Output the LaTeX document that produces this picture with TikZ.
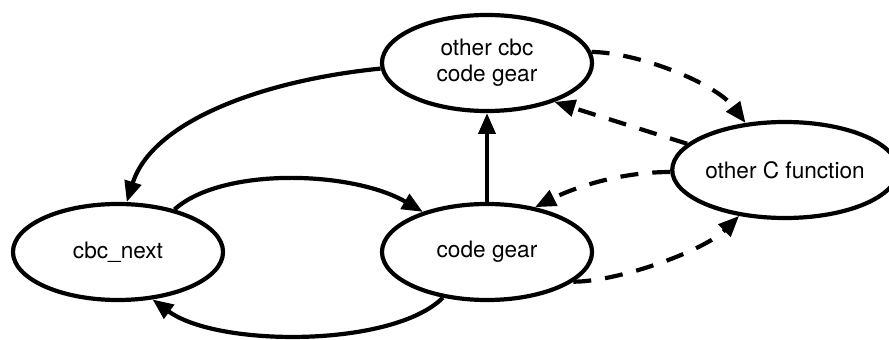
\documentclass[tikz,border=0pt]{standalone}
\usepackage{fontspec}
\setmainfont{TeX Gyre Heros}
\usepackage{tikz}
\usetikzlibrary{shapes.geometric,arrows.meta}

\begin{document}
\begin{tikzpicture}[x=0.025cm,y=-0.025cm,
            gear/.style={draw,ellipse,line width=0.105cm,minimum width=5.25cm,minimum height=2.4cm,inner sep=0pt,align=center,font=\fontsize{16.1}{18.7}\selectfont},
            flow/.style={line width=0.105cm,-{Triangle[length=0.52cm,width=0.42cm]}},
            call/.style={flow,dash pattern=on 0.45cm off 0.35cm}]
            \useasboundingbox (0,0) rectangle (889,340);
            \node[gear] (cbcnext) at (118,252) {cbc\_next};
            \node[gear] (cgear) at (487,252) {code gear};
            \node[gear] (ocbc) at (487,63) {other cbc\\code gear};
            \node[gear,minimum width=5cm] (ocfunc) at (785,170) {other C function};

            \draw[flow] (ocbc.183) .. controls +(-120,12) and +(25,-80) .. (cbcnext.80);
            \draw[flow] (cbcnext.37) .. controls +(48,-43) and +(-70,-41) .. (cgear.148);
            \draw[flow] (cgear.226) .. controls +(-50,50) and +(65,48) .. (cbcnext.306);
            \draw[flow] (cgear) -- (ocbc);

            \draw[call] (ocbc.6) .. controls +(45,0) and +(-30,-40) .. (ocfunc.130);
            \draw[call] (ocfunc.165) -- (ocbc.330);
            \draw[call] (ocfunc.181) .. controls +(-50,0) and +(40,-20) .. (cgear.43);
            \draw[call] (cgear.341) .. controls +(45,0) and +(-35,35) .. (ocfunc.225);
        \end{tikzpicture}
\end{document}
